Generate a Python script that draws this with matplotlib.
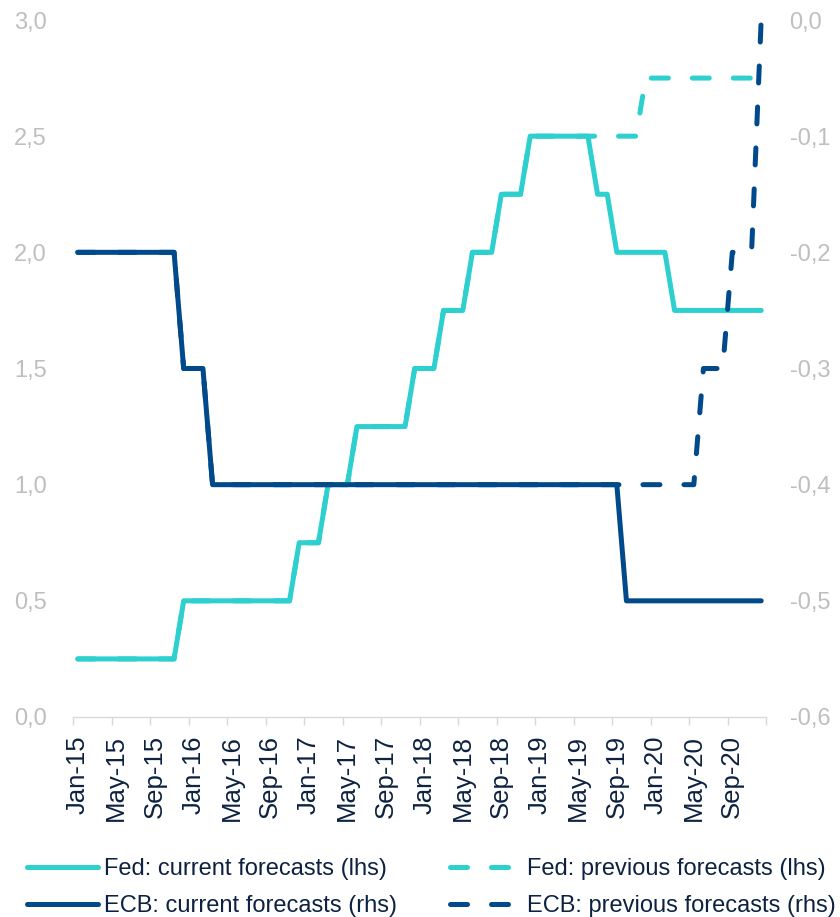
import matplotlib
matplotlib.use("Agg")
import matplotlib.pyplot as plt
from matplotlib.lines import Line2D
from matplotlib.ticker import FuncFormatter

plt.rcParams['font.family'] = ['Liberation Sans', 'DejaVu Sans']

# monthly values, Jan-15 .. Dec-20 (one row per year)
fed_current = [
    0.25, 0.25, 0.25, 0.25, 0.25, 0.25, 0.25, 0.25, 0.25, 0.25, 0.25, 0.5,
    0.5, 0.5, 0.5, 0.5, 0.5, 0.5, 0.5, 0.5, 0.5, 0.5, 0.5, 0.75,
    0.75, 0.75, 1.0, 1.0, 1.0, 1.25, 1.25, 1.25, 1.25, 1.25, 1.25, 1.5,
    1.5, 1.5, 1.75, 1.75, 1.75, 2.0, 2.0, 2.0, 2.25, 2.25, 2.25, 2.5,
    2.5, 2.5, 2.5, 2.5, 2.5, 2.5, 2.25, 2.25, 2.0, 2.0, 2.0, 2.0,
    2.0, 2.0, 1.75, 1.75, 1.75, 1.75, 1.75, 1.75, 1.75, 1.75, 1.75, 1.75,
]
fed_previous = [
    0.25, 0.25, 0.25, 0.25, 0.25, 0.25, 0.25, 0.25, 0.25, 0.25, 0.25, 0.5,
    0.5, 0.5, 0.5, 0.5, 0.5, 0.5, 0.5, 0.5, 0.5, 0.5, 0.5, 0.75,
    0.75, 0.75, 1.0, 1.0, 1.0, 1.25, 1.25, 1.25, 1.25, 1.25, 1.25, 1.5,
    1.5, 1.5, 1.75, 1.75, 1.75, 2.0, 2.0, 2.0, 2.25, 2.25, 2.25, 2.5,
    2.5, 2.5, 2.5, 2.5, 2.5, 2.5, 2.5, 2.5, 2.5, 2.5, 2.5, 2.75,
    2.75, 2.75, 2.75, 2.75, 2.75, 2.75, 2.75, 2.75, 2.75, 2.75, 2.75, 2.75,
]
ecb_current = [
    -0.2, -0.2, -0.2, -0.2, -0.2, -0.2, -0.2, -0.2, -0.2, -0.2, -0.2, -0.3,
    -0.3, -0.3, -0.4, -0.4, -0.4, -0.4, -0.4, -0.4, -0.4, -0.4, -0.4, -0.4,
    -0.4, -0.4, -0.4, -0.4, -0.4, -0.4, -0.4, -0.4, -0.4, -0.4, -0.4, -0.4,
    -0.4, -0.4, -0.4, -0.4, -0.4, -0.4, -0.4, -0.4, -0.4, -0.4, -0.4, -0.4,
    -0.4, -0.4, -0.4, -0.4, -0.4, -0.4, -0.4, -0.4, -0.4, -0.5, -0.5, -0.5,
    -0.5, -0.5, -0.5, -0.5, -0.5, -0.5, -0.5, -0.5, -0.5, -0.5, -0.5, -0.5,
]
ecb_previous = [
    -0.2, -0.2, -0.2, -0.2, -0.2, -0.2, -0.2, -0.2, -0.2, -0.2, -0.2, -0.3,
    -0.3, -0.3, -0.4, -0.4, -0.4, -0.4, -0.4, -0.4, -0.4, -0.4, -0.4, -0.4,
    -0.4, -0.4, -0.4, -0.4, -0.4, -0.4, -0.4, -0.4, -0.4, -0.4, -0.4, -0.4,
    -0.4, -0.4, -0.4, -0.4, -0.4, -0.4, -0.4, -0.4, -0.4, -0.4, -0.4, -0.4,
    -0.4, -0.4, -0.4, -0.4, -0.4, -0.4, -0.4, -0.4, -0.4, -0.4, -0.4, -0.4,
    -0.4, -0.4, -0.4, -0.4, -0.4, -0.3, -0.3, -0.3, -0.2, -0.2, -0.2, 0.0,
]
tick_labels = ["Jan-15", "May-15", "Sep-15", "Jan-16", "May-16", "Sep-16",
               "Jan-17", "May-17", "Sep-17", "Jan-18", "May-18", "Sep-18",
               "Jan-19", "May-19", "Sep-19", "Jan-20", "May-20", "Sep-20"]
left_ticks = [0.0, 0.5, 1.0, 1.5, 2.0, 2.5, 3.0]
right_ticks = [-0.6, -0.5, -0.4, -0.3, -0.2, -0.1, 0.0]

FED = '#2ECFCF'
ECB = '#004A8B'
GREY = '#BFBFBF'
NAVY = '#0D2240'
LW = 3.6
DASH = (3.4, 4.8)

fig = plt.figure(figsize=(8.4, 9.17), dpi=100)
ax = fig.add_axes([73 / 840, 1 - 717 / 917, (766 - 73) / 840, (717 - 20) / 917])
ax2 = ax.twinx()

x = list(range(len(fed_current)))

ax.plot(x, fed_previous, color=FED, lw=LW, dashes=DASH,
        dash_capstyle='round', dash_joinstyle='round')
ax.plot(x, fed_current, color=FED, lw=LW,
        solid_capstyle='round', solid_joinstyle='round')
ax2.plot(x, ecb_current, color=ECB, lw=LW,
         solid_capstyle='round', solid_joinstyle='round')
ax2.plot(x, ecb_previous, color=ECB, lw=LW, dashes=DASH,
         dash_capstyle='round', dash_joinstyle='round')

ax.set_xlim(-0.5, len(x) - 0.5)
ax.set_ylim(0, 3)
ax2.set_ylim(-0.6, 0)

comma = FuncFormatter(lambda v, p: f"{v:.1f}".replace('.', ','))
ax.set_yticks(left_ticks)
ax.yaxis.set_major_formatter(comma)
ax2.set_yticks(right_ticks)
ax2.yaxis.set_major_formatter(comma)
ax.tick_params(axis='y', length=0, pad=19, labelsize=17, labelcolor=GREY)
ax2.tick_params(axis='y', length=0, pad=17, labelsize=17, labelcolor=GREY)

ax.set_xticks(list(range(0, len(x), 4)))
ax.set_xticklabels(tick_labels, rotation=90, fontsize=18.5, color=NAVY)
ax.set_xticks([i - 0.5 for i in range(0, len(x) + 1, 4)], minor=True)
ax.tick_params(axis='x', which='major', length=0, pad=13)
ax.tick_params(axis='x', which='minor', length=6, width=1, color='#D9D9D9')

for a in (ax, ax2):
    for s in ('top', 'left', 'right'):
        a.spines[s].set_visible(False)
ax2.spines['bottom'].set_visible(False)
ax.spines['bottom'].set_color('#D9D9D9')
ax.spines['bottom'].set_linewidth(1)

handles = [
    Line2D([], [], color=FED, lw=LW, solid_capstyle='round'),
    Line2D([], [], color=ECB, lw=LW, solid_capstyle='round'),
    Line2D([], [], color=FED, lw=LW, dashes=DASH, dash_capstyle='round'),
    Line2D([], [], color=ECB, lw=LW, dashes=DASH, dash_capstyle='round'),
]
labels = ["Fed: current forecasts (lhs)", "ECB: current forecasts (rhs)",
          "Fed: previous forecasts (lhs)", "ECB: previous forecasts (rhs)"]
fig.legend(handles, labels, ncol=2, loc='lower left',
           bbox_to_anchor=(27 / 840, 0.0), frameon=False, fontsize=17,
           labelcolor=NAVY, handlelength=3.0, handletextpad=0.25,
           columnspacing=2.25, labelspacing=0.62, borderpad=0, borderaxespad=0)

fig.savefig('out.png', dpi=100)
